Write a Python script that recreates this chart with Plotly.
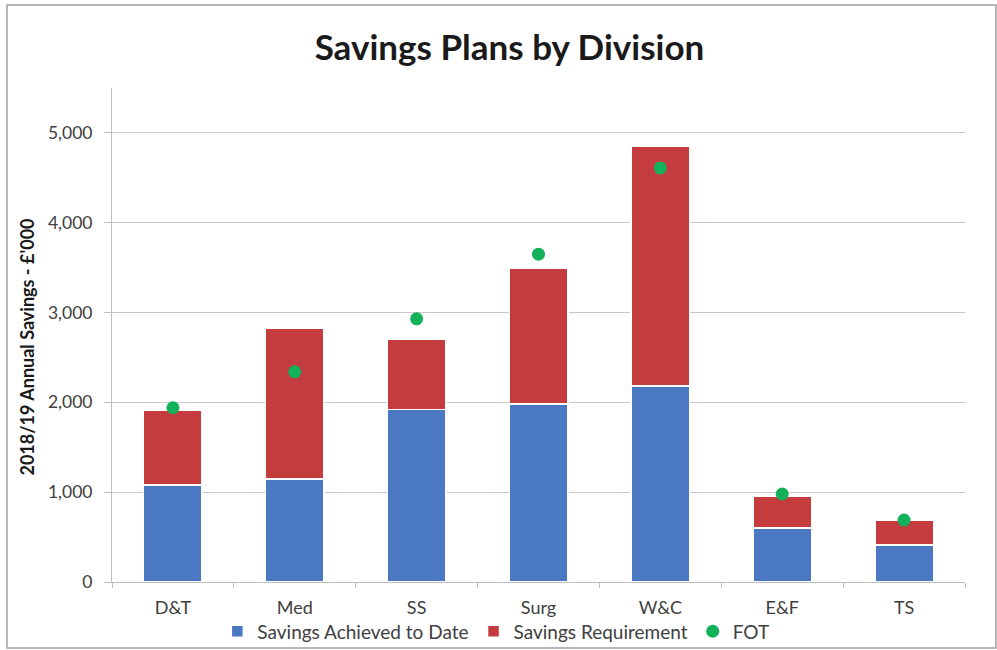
import plotly.graph_objects as go

divisions = ["D&T", "Med", "SS", "Surg", "W&C", "E&F", "TS"]
achieved = [1080, 1145, 1920, 1980, 2180, 600, 410]
requirement = [835, 1685, 785, 1515, 2675, 350, 275]
fot = [1940, 2340, 2930, 3650, 4610, 980, 690]

FONT = "Lato, Open Sans, sans-serif"

fig = go.Figure()
fig.add_trace(go.Bar(
    x=divisions, y=achieved, name="Savings Achieved to Date",
    marker=dict(color="#4a78c2", line=dict(color="white", width=1.5)),
))
fig.add_trace(go.Bar(
    x=divisions, y=requirement, name="Savings Requirement",
    marker=dict(color="#c43c3e", line=dict(color="white", width=1.5)),
))
fig.add_trace(go.Scatter(
    x=divisions, y=fot, name="FOT", mode="markers",
    marker=dict(color="#13b15a", size=13, symbol="circle"),
))

fig.update_layout(
    barmode="stack",
    bargap=0.52,
    width=997, height=650,
    margin=dict(l=112, r=32, t=88, b=68, autoexpand=False),
    paper_bgcolor="white",
    plot_bgcolor="white",
    font=dict(family=FONT, color="#404040", size=16),
    title=dict(
        text="<b>Savings Plans by Division</b>",
        x=0.511, xanchor="center", y=0.927, yanchor="middle",
        font=dict(size=35, color="#1a1a1a", family=FONT),
    ),
    legend=dict(
        orientation="h", x=0.45, xanchor="center", y=-0.1, yanchor="middle",
        font=dict(size=19, color="#404040"), traceorder="normal",
        itemwidth=30, tracegroupgap=0, bgcolor="rgba(0,0,0,0)",
    ),
    yaxis=dict(
        range=[0, 5500],
        tickvals=[0, 1000, 2000, 3000, 4000, 5000],
        tickformat=",",
        showgrid=True, gridcolor="#c8c8c8", gridwidth=1,
        showline=True, linecolor="#bfbfbf", linewidth=1,
        ticks="outside", ticklen=7, tickcolor="#bfbfbf",
        ticklabelstandoff=8,
        zeroline=False, automargin=False,
        tickfont=dict(size=17.5, color="#404040"),
    ),
    xaxis=dict(
        showline=True, linecolor="#bfbfbf", linewidth=1,
        ticks="outside", ticklen=5, tickcolor="#bfbfbf",
        tickson="boundaries", automargin=False,
        ticklabelstandoff=9,
        tickfont=dict(size=18, color="#404040"),
    ),
    annotations=[dict(
        text="<b>2018/19 Annual Savings - £'000</b>",
        xref="paper", yref="paper", x=-0.1, y=0.476,
        xanchor="center", yanchor="middle", textangle=-90, showarrow=False,
        font=dict(size=18, color="#1a1a1a", family=FONT),
    )],
    shapes=[dict(type="rect", xref="paper", yref="paper",
                 x0=-0.1231, x1=1.0363, y0=-0.1336, y1=1.168,
                 line=dict(color="#a0a0a0", width=1.5))],
)

fig.write_html("out.html", config={"displayModeBar": False},
               post_script="document.body.style.margin='0';")
